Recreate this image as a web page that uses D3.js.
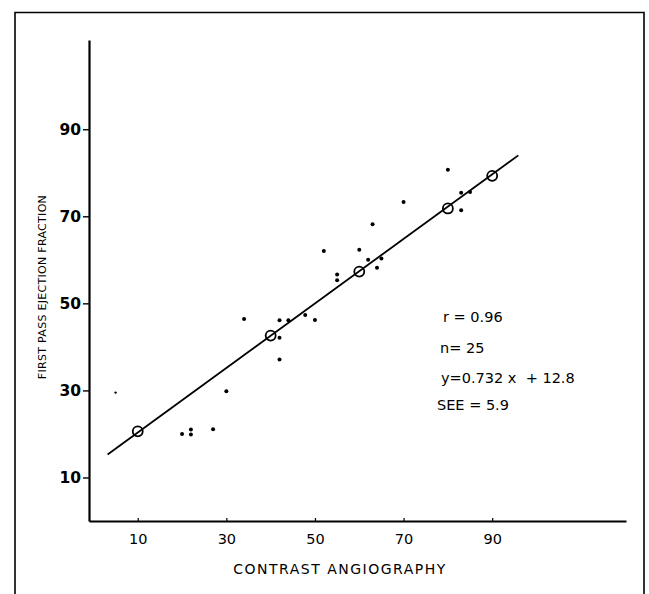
<!DOCTYPE html>
<html>
<head>
<meta charset="utf-8">
<script src="https://cdn.jsdelivr.net/npm/d3@7"></script>
<style>
  body { margin: 0; background: #fff; }
  svg { display: block; font-family: "DejaVu Sans", Verdana, sans-serif; }
</style>
</head>
<body>
<svg width="649" height="594"></svg>
<script>
// scatter points (contrast angiography vs first pass EF)
const ptX = [5, 20, 22, 22, 27, 30, 34, 42, 42, 42, 44, 47.8, 50, 52, 55, 55, 60, 62, 63, 64, 65, 70, 80, 83, 85, 83];
const ptY = [29.5, 20.0, 21.0, 19.9, 21.1, 29.8, 46.4, 46.1, 42.1, 37.1, 46.1, 47.3, 46.2, 62.0, 56.6, 55.3, 62.3, 60.0, 68.2, 58.2, 60.3, 73.3, 80.7, 75.4, 75.6, 71.4];

// circled points on the regression line
const ringX = [10, 40, 60, 80, 90];
const ringY = [20.6, 42.6, 57.3, 71.8, 79.3];

// regression line end points
const fitX = [3.2, 95.9];
const fitY = [15.3, 84.0];

const xTicks = [10, 30, 50, 70, 90];
const yTicks = [10, 30, 50, 70, 90];
const stats = ["r = 0.96", "n= 25", "y=0.732 x  + 12.8", "SEE = 5.9"];

const svg = d3.select("svg");

// outer frame (open at the bottom)
svg.append("path")
  .attr("d", "M15,594 L15,12.5 L644,12.5 L644,594")
  .attr("fill", "none")
  .attr("stroke", "#000")
  .attr("stroke-width", 1.6);

const x = d3.scaleLinear().domain([-1, 120.2]).range([89, 626]);
const y = d3.scaleLinear().domain([0, 110.5]).range([521, 40]);

// x axis
const gx = svg.append("g")
  .attr("transform", `translate(0,${y(0)})`)
  .call(d3.axisBottom(x).tickValues(xTicks).tickSize(-3).tickPadding(13).tickSizeOuter(0));
gx.select(".domain").attr("stroke-width", 2.2);
gx.selectAll(".tick line").attr("stroke-width", 1.2);
gx.selectAll(".tick text").attr("font-size", 14.5).attr("fill", "#000").attr("font-family", "DejaVu Sans");

// y axis
const gy = svg.append("g")
  .attr("transform", `translate(${x(-1)},0)`)
  .call(d3.axisLeft(y).tickValues(yTicks).tickSize(6).tickPadding(2).tickSizeOuter(0));
gy.select(".domain").attr("stroke-width", 2.2);
gy.selectAll(".tick line").attr("stroke-width", 1.4);
gy.selectAll(".tick text").attr("font-size", 15.5).attr("font-weight", "bold").attr("fill", "#000").attr("font-family", "DejaVu Sans");

// axis titles
svg.append("text")
  .attr("x", 340).attr("y", 574)
  .attr("text-anchor", "middle")
  .attr("font-size", 14)
  .attr("letter-spacing", 1.5)
  .text("CONTRAST ANGIOGRAPHY");

svg.append("text")
  .attr("transform", "translate(46,287) rotate(-90)")
  .attr("text-anchor", "middle")
  .attr("font-size", 11)
  .attr("letter-spacing", 0.3)
  .text("FIRST PASS EJECTION FRACTION");

// regression line
svg.append("line")
  .attr("x1", x(fitX[0])).attr("y1", y(fitY[0]))
  .attr("x2", x(fitX[1])).attr("y2", y(fitY[1]))
  .attr("stroke", "#000")
  .attr("stroke-width", 1.8);

// data points
svg.append("g")
  .selectAll("circle")
  .data(ptX)
  .join("circle")
  .attr("cx", (d) => x(d))
  .attr("cy", (d, i) => y(ptY[i]))
  .attr("r", (d, i) => (i === 0 ? 1.2 : 2))
  .attr("fill", "#000");

// circled points
svg.append("g")
  .selectAll("circle")
  .data(ringX)
  .join("circle")
  .attr("cx", (d) => x(d))
  .attr("cy", (d, i) => y(ringY[i]))
  .attr("r", 5)
  .attr("fill", "none")
  .attr("stroke", "#000")
  .attr("stroke-width", 1.8);

// statistics block
const statX = [443, 440, 441, 437];
const statY = [322, 353, 383, 410];
svg.append("g")
  .selectAll("text")
  .data(stats)
  .join("text")
  .attr("x", (d, i) => statX[i])
  .attr("y", (d, i) => statY[i])
  .attr("font-size", 14.5)
  .style("white-space", "pre")
  .text((d) => d);
</script>
</body>
</html>
